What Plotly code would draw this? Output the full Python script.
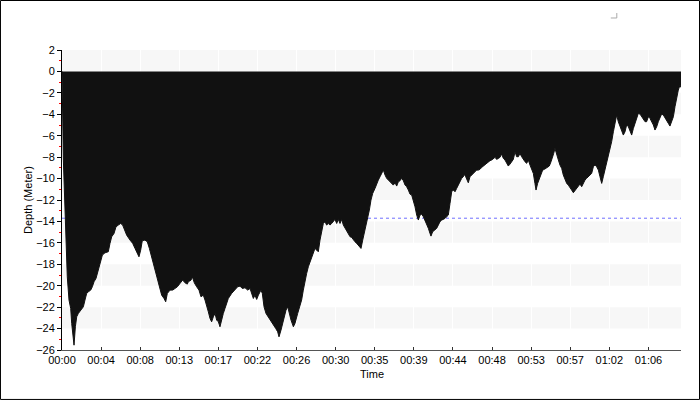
import plotly.graph_objects as go

# Dive profile: time in minutes, depth in meters
time_min = [0.0, 0.05, 0.15, 0.30, 0.45, 0.59, 0.78, 0.97, 1.08, 1.26, 1.34, 1.49, 1.64, 1.82, 2.08, 2.38,
            2.56, 2.75, 2.94, 3.20, 3.38, 3.57, 3.79, 4.05, 4.24, 4.50, 4.79, 5.16, 5.35, 5.54, 5.80,
            6.02, 6.28, 6.54, 6.76, 7.02, 7.21, 7.58, 7.88, 8.14, 8.40, 8.58, 8.77, 8.95, 9.25, 9.51,
            9.74, 10.00, 10.29, 10.55, 10.81, 11.11, 11.37, 11.56, 11.74, 12.04, 12.34, 12.60, 12.86,
            13.15, 13.45, 13.71, 13.97, 14.08, 14.38, 14.53, 14.75, 15.01, 15.27, 15.49, 15.75, 15.94,
            16.13, 16.31, 16.50, 16.68, 16.87, 17.06, 17.24, 17.43, 17.61, 17.80, 17.98, 18.17, 18.36,
            18.54, 18.91, 19.28, 19.58, 19.84, 20.10, 20.40, 20.70, 20.96, 21.14, 21.33, 21.51, 21.70,
            21.89, 22.18, 22.33, 22.52, 22.74, 23.00, 23.26, 23.56, 23.82, 24.04, 24.19, 24.41, 24.60,
            24.78, 24.97, 25.16, 25.34, 25.53, 25.79, 25.97, 26.27, 26.53, 26.71, 26.90, 27.09, 27.27,
            27.46, 27.72, 27.94, 28.02, 28.20, 28.39, 28.57, 28.76, 28.95, 29.13, 29.32, 29.50, 29.69,
            29.87, 30.06, 30.25, 30.43, 30.62, 30.80, 30.99, 31.18, 31.36, 31.55, 31.73, 31.92, 32.11,
            32.29, 32.48, 32.66, 32.85, 33.03, 33.22, 33.33, 33.52, 33.70, 33.89, 34.07, 34.26, 34.44,
            34.63, 34.89, 35.08, 35.26, 35.45, 35.63, 35.82, 36.01, 36.19, 36.38, 36.56, 36.75, 36.93,
            37.12, 37.31, 37.49, 37.68, 37.86, 38.05, 38.24, 38.42, 38.61, 38.79, 38.98, 39.16, 39.35,
            39.54, 39.72, 39.91, 40.09, 40.28, 40.46, 40.65, 40.84, 41.02, 41.13, 41.32, 41.58, 41.76,
            41.95, 42.13, 42.32, 42.51, 42.69, 42.88, 43.06, 43.25, 43.44, 43.62, 43.81, 43.99, 44.18,
            44.36, 44.55, 44.74, 44.85, 45.00, 45.15, 45.29, 45.48, 45.67, 45.85, 46.04, 46.22, 46.41,
            46.59, 46.78, 46.97, 47.15, 47.34, 47.52, 47.71, 47.89, 48.08, 48.27, 48.45, 48.64, 48.82,
            49.01, 49.20, 49.38, 49.57, 49.75, 49.94, 50.12, 50.31, 50.50, 50.68, 50.87, 51.05, 51.24,
            51.42, 51.61, 51.80, 51.98, 52.17, 52.35, 52.54, 52.72, 52.84, 53.02, 53.21, 53.39, 53.58,
            53.77, 53.95, 54.14, 54.32, 54.51, 54.66, 54.81, 54.95, 55.14, 55.33, 55.51, 55.70, 55.88,
            56.07, 56.26, 56.44, 56.63, 56.81, 57.00, 57.18, 57.37, 57.56, 57.74, 57.93, 58.11, 58.30,
            58.48, 58.67, 58.86, 59.04, 59.23, 59.41, 59.60, 59.79, 59.97, 60.16, 60.34, 60.53, 60.71,
            60.90, 61.09, 61.27, 61.46, 61.64, 61.83, 62.01, 62.20, 62.39, 62.57, 62.76, 62.94, 63.13,
            63.32, 63.50, 63.69, 63.87, 64.06, 64.24, 64.43, 64.62, 64.80, 64.99, 65.17, 65.36, 65.54,
            65.73, 65.92, 66.10, 66.29, 66.47, 66.66, 66.84, 67.03, 67.22, 67.40, 67.59, 67.77, 67.96,
            68.15, 68.33, 68.52, 68.70, 68.89, 69.00]
depth_m = [0.0, -4.5, -8.27, -12.0, -16.05, -19.17, -21.34, -22.12, -23.52, -24.77, -25.55, -23.83, -22.9,
           -22.59, -22.28, -21.97, -21.34, -20.72, -20.57, -20.41, -20.1, -19.63, -19.32, -18.54, -17.92,
           -17.14, -16.93, -16.83, -16.05, -15.43, -15.12, -14.5, -14.34, -14.19, -14.34, -14.81, -15.28,
           -15.74, -16.05, -16.52, -16.99, -17.3, -16.68, -15.8, -15.74, -15.9, -16.52, -17.3, -18.23,
           -19.01, -19.94, -20.88, -21.19, -21.5, -20.72, -20.41, -20.41, -20.26, -20.1, -19.79, -19.47,
           -19.73, -19.85, -19.63, -19.48, -19.17, -19.73, -20.1, -20.41, -21.03, -20.88, -21.34, -21.81,
           -22.43, -23.06, -23.37, -22.9, -22.59, -23.21, -23.37, -23.83, -23.06, -22.59, -22.12, -21.5,
           -21.19, -20.72, -20.41, -20.1, -20.04, -20.26, -20.19, -20.41, -20.26, -20.72, -21.19, -20.88,
           -21.28, -20.88, -20.41, -20.72, -21.97, -22.59, -22.9, -23.21, -23.68, -23.99, -24.3, -24.77,
           -24.15, -23.52, -22.9, -22.28, -21.97, -22.59, -23.21, -23.83, -23.52, -22.59, -21.97, -21.34,
           -20.41, -19.48, -18.86, -18.23, -17.61, -17.14, -16.83, -16.52, -16.68, -16.83, -15.74, -14.81,
           -14.19, -14.03, -14.34, -14.19, -14.34, -14.19, -14.03, -13.81, -14.19, -13.81, -14.19, -13.81,
           -14.34, -14.65, -14.96, -15.27, -15.43, -15.49, -15.74, -15.9, -16.05, -16.21, -16.37, -16.52,
           -15.74, -15.12, -14.5, -13.88, -12.94, -12.01, -11.39, -10.92, -10.45, -10.14, -9.83, -9.52,
           -9.21, -9.67, -9.98, -10.14, -10.3, -10.39, -10.61, -10.39, -10.7, -10.3, -10.2, -9.98, -10.2,
           -10.61, -10.76, -11.07, -11.45, -11.54, -12.01, -12.63, -13.41, -13.87, -13.41, -13.32, -13.56,
           -13.87, -14.19, -14.65, -15.12, -15.37, -14.96, -14.81, -14.65, -14.34, -14.03, -13.88, -13.81,
           -13.72, -13.56, -13.41, -12.32, -11.23, -11.07, -11.23, -10.92, -10.61, -10.3, -9.98, -9.83,
           -9.61, -9.83, -10.14, -10.39, -9.83, -9.67, -9.52, -9.36, -9.21, -9.21, -9.14, -8.96, -8.83,
           -8.74, -8.58, -8.43, -8.33, -8.27, -8.15, -8.02, -8.21, -8.12, -8.02, -7.71, -8.12, -8.27,
           -8.52, -8.83, -8.65, -8.43, -8.21, -7.49, -7.96, -7.96, -7.65, -7.96, -8.21, -8.43, -8.58,
           -8.27, -8.74, -9.05, -9.52, -10.45, -11.07, -10.45, -9.98, -9.52, -9.21, -9.14, -9.05, -8.96,
           -8.83, -8.43, -8.12, -7.65, -7.18, -7.81, -8.27, -8.74, -9.05, -9.67, -10.14, -10.45, -10.61,
           -10.92, -11.07, -11.32, -11.14, -10.92, -10.76, -10.51, -10.76, -10.45, -10.14, -9.98, -9.83,
           -9.67, -9.52, -8.9, -8.74, -8.9, -9.21, -9.83, -10.45, -9.83, -9.21, -8.43, -7.81, -7.18, -6.56,
           -5.63, -4.85, -4.07, -4.69, -5.16, -5.63, -5.94, -5.63, -5.0, -5.16, -5.63, -5.94, -5.32, -4.85,
           -4.38, -3.92, -3.98, -4.23, -4.54, -4.69, -4.69, -4.23, -4.38, -4.69, -5.0, -5.47, -5.16, -4.69,
           -4.23, -3.98, -4.07, -4.38, -4.69, -4.85, -5.1, -4.69, -4.23, -3.29, -2.36, -1.74, -1.27, -1.5]

reference_depth = -13.7   # dotted blue line

x_tick_vals = [0, 4.36, 8.72, 13.07, 17.43, 21.79, 26.15, 30.51, 34.86, 39.22, 43.58, 47.94,
               52.30, 56.65, 61.01, 65.37]
x_tick_text = ["00:00", "00:04", "00:08", "00:13", "00:17", "00:22", "00:26", "00:30", "00:35",
               "00:39", "00:44", "00:48", "00:53", "00:57", "01:02", "01:06"]
y_ticks = list(range(-26, 3, 2))
x_max = 69.0

FONT = "Liberation Sans"

fig = go.Figure()
fig.add_trace(go.Scatter(x=[0, x_max], y=[reference_depth, reference_depth], mode="lines",
                         line=dict(color="#6f6fff", width=1, dash="dot"),
                         hoverinfo="skip", showlegend=False))
fig.add_trace(go.Scatter(x=time_min, y=depth_m, mode="lines", fill="tozeroy",
                         fillcolor="#111111", line=dict(color="#111111", width=1),
                         showlegend=False))

shapes = []
for v in y_ticks:
    if v % 4 == 0 and v < 2:
        shapes.append(dict(type="rect", xref="x", yref="y", x0=0, x1=x_max, y0=v, y1=v + 2,
                           fillcolor="#f7f7f7", line=dict(width=0), layer="below"))
# outer frame
shapes.append(dict(type="rect", xref="paper", yref="paper", x0=-0.0994, x1=1.0299, y0=-0.1648, y1=1.1650,
                   line=dict(color="black", width=1), fillcolor="rgba(0,0,0,0)", layer="above"))
# small corner mark at top right
shapes.append(dict(type="path", xref="paper", yref="paper",
                   path="M 0.8866 1.1067 L 0.8963 1.1067 L 0.8963 1.1233",
                   line=dict(color="#aaaaaa", width=1), layer="above"))

annotations = [
    dict(text="Time", xref="paper", yref="paper", x=0.5, y=-0.079, xanchor="center", yanchor="middle",
         showarrow=False, font=dict(size=11)),
    dict(text="Depth (Meter)", xref="paper", yref="paper", x=-0.055, y=0.5, xanchor="center",
         yanchor="middle", textangle=-90, showarrow=False, font=dict(size=11)),
]

fig.update_layout(
    width=700, height=400,
    margin=dict(l=62, r=19, t=50, b=50),
    paper_bgcolor="white", plot_bgcolor="white",
    font=dict(family=FONT, size=11, color="black"),
    shapes=shapes,
    annotations=annotations,
    showlegend=False,
    xaxis=dict(range=[0, x_max], tickvals=x_tick_vals, ticktext=x_tick_text,
               ticks="inside", ticklen=3, tickcolor="#333333",
               showline=True, linecolor="#555555", linewidth=1,
               showgrid=True, gridcolor="#ffffff", gridwidth=1, zeroline=False,
               tickfont=dict(size=11), automargin=False),
    yaxis=dict(range=[-26, 2], tickvals=y_ticks, ticks="outside", ticklen=4, tickcolor="black",
               showline=True, linecolor="black", linewidth=1,
               showgrid=False, zeroline=False,
               minor=dict(ticks="outside", ticklen=2, tickcolor="red", dtick=1, showgrid=False),
               tickfont=dict(size=11), automargin=False),
)

fig.write_html("out.html", config={"displayModeBar": False},
               post_script="document.body.style.margin='0';")
